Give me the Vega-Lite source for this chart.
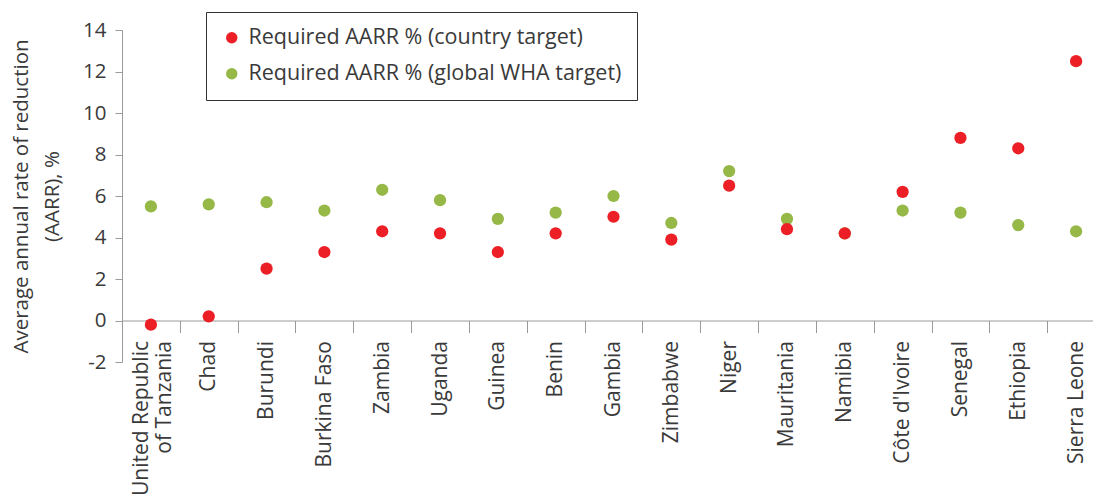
{
  "$schema": "https://vega.github.io/schema/vega-lite/v6.json",
  "autosize": {"type": "none"},
  "padding": {"left": 122, "top": 30, "right": -12, "bottom": 138},
  "width": 983,
  "height": 332,
  "background": "white",
  "config": {
    "font": "Open Sans",
    "view": {"stroke": null},
    "axis": {"labelColor": "#3a3a3a", "titleColor": "#3a3a3a", "domainColor": "#9a9a9a", "tickColor": "#9a9a9a", "grid": false, "labelFont": "Open Sans", "titleFont": "Open Sans"}
  },
  "data": {
    "values": [
      {"country": "United Republic of Tanzania", "series": "Required AARR % (global WHA target)", "value": 5.5},
      {"country": "Chad", "series": "Required AARR % (global WHA target)", "value": 5.6},
      {"country": "Burundi", "series": "Required AARR % (global WHA target)", "value": 5.7},
      {"country": "Burkina Faso", "series": "Required AARR % (global WHA target)", "value": 5.3},
      {"country": "Zambia", "series": "Required AARR % (global WHA target)", "value": 6.3},
      {"country": "Uganda", "series": "Required AARR % (global WHA target)", "value": 5.8},
      {"country": "Guinea", "series": "Required AARR % (global WHA target)", "value": 4.9},
      {"country": "Benin", "series": "Required AARR % (global WHA target)", "value": 5.2},
      {"country": "Gambia", "series": "Required AARR % (global WHA target)", "value": 6.0},
      {"country": "Zimbabwe", "series": "Required AARR % (global WHA target)", "value": 4.7},
      {"country": "Niger", "series": "Required AARR % (global WHA target)", "value": 7.2},
      {"country": "Mauritania", "series": "Required AARR % (global WHA target)", "value": 4.9},
      {"country": "Namibia", "series": "Required AARR % (global WHA target)", "value": 4.2},
      {"country": "Côte d'Ivoire", "series": "Required AARR % (global WHA target)", "value": 5.3},
      {"country": "Senegal", "series": "Required AARR % (global WHA target)", "value": 5.2},
      {"country": "Ethiopia", "series": "Required AARR % (global WHA target)", "value": 4.6},
      {"country": "Sierra Leone", "series": "Required AARR % (global WHA target)", "value": 4.3},
      {"country": "United Republic of Tanzania", "series": "Required AARR % (country target)", "value": -0.2},
      {"country": "Chad", "series": "Required AARR % (country target)", "value": 0.2},
      {"country": "Burundi", "series": "Required AARR % (country target)", "value": 2.5},
      {"country": "Burkina Faso", "series": "Required AARR % (country target)", "value": 3.3},
      {"country": "Zambia", "series": "Required AARR % (country target)", "value": 4.3},
      {"country": "Uganda", "series": "Required AARR % (country target)", "value": 4.2},
      {"country": "Guinea", "series": "Required AARR % (country target)", "value": 3.3},
      {"country": "Benin", "series": "Required AARR % (country target)", "value": 4.2},
      {"country": "Gambia", "series": "Required AARR % (country target)", "value": 5.0},
      {"country": "Zimbabwe", "series": "Required AARR % (country target)", "value": 3.9},
      {"country": "Niger", "series": "Required AARR % (country target)", "value": 6.5},
      {"country": "Mauritania", "series": "Required AARR % (country target)", "value": 4.4},
      {"country": "Namibia", "series": "Required AARR % (country target)", "value": 4.2},
      {"country": "Côte d'Ivoire", "series": "Required AARR % (country target)", "value": 6.2},
      {"country": "Senegal", "series": "Required AARR % (country target)", "value": 8.8},
      {"country": "Ethiopia", "series": "Required AARR % (country target)", "value": 8.3},
      {"country": "Sierra Leone", "series": "Required AARR % (country target)", "value": 12.5}
    ]
  },
  "mark": {"type": "circle", "size": 150, "opacity": 1},
  "encoding": {
    "x": {
      "field": "country",
      "type": "nominal",
      "sort": ["United Republic of Tanzania", "Chad", "Burundi", "Burkina Faso", "Zambia", "Uganda", "Guinea", "Benin", "Gambia", "Zimbabwe", "Niger", "Mauritania", "Namibia", "Côte d'Ivoire", "Senegal", "Ethiopia", "Sierra Leone"],
      "scale": {"paddingInner": 0, "paddingOuter": 0},
      "axis": {
        "title": null,
        "offset": -41.5,
        "labelAngle": -90,
        "labelFontSize": 21,
        "labelLineHeight": 23,
        "labelPadding": 8,
        "labelLimit": 0,
        "labelOffset": {"condition": {"test": "datum.value == 'United Republic of Tanzania'", "value": -9}, "value": 0},
        "tickSize": 12,
        "tickBand": "extent",
        "labelExpr": "datum.value == 'United Republic of Tanzania' ? ['United Republic', 'of Tanzania'] : datum.label"
      }
    },
    "y": {
      "field": "value",
      "type": "quantitative",
      "scale": {"domain": [-2, 14], "nice": false},
      "axis": {
        "title": ["Average annual rate of reduction", "(AARR), %"],
        "titleFontSize": 20.5,
        "titleFontWeight": "normal",
        "titleLineHeight": 31,
        "titlePadding": 20,
        "values": [-2, 0, 2, 4, 6, 8, 10, 12, 14],
        "labelFontSize": 20.5,
        "labelPadding": 9,
        "tickSize": 7,
        "labelExpr": "datum.value < 0 ? '-' + abs(datum.value) : datum.label"
      }
    },
    "color": {
      "field": "series",
      "type": "nominal",
      "scale": {"domain": ["Required AARR % (country target)", "Required AARR % (global WHA target)"], "range": ["#ec1f26", "#95b846"]},
      "legend": {
        "title": null,
        "orient": "none",
        "legendX": 84,
        "legendY": -18,
        "strokeColor": "#333333",
        "fillColor": "white",
        "padding": 15,
        "labelFontSize": 21.5,
        "labelLimit": 0,
        "labelColor": "#3a3a3a",
        "labelFont": "Open Sans",
        "symbolType": "circle",
        "symbolSize": 130,
        "symbolOpacity": 1,
        "rowPadding": 13,
        "labelOffset": 6
      }
    }
  }
}
